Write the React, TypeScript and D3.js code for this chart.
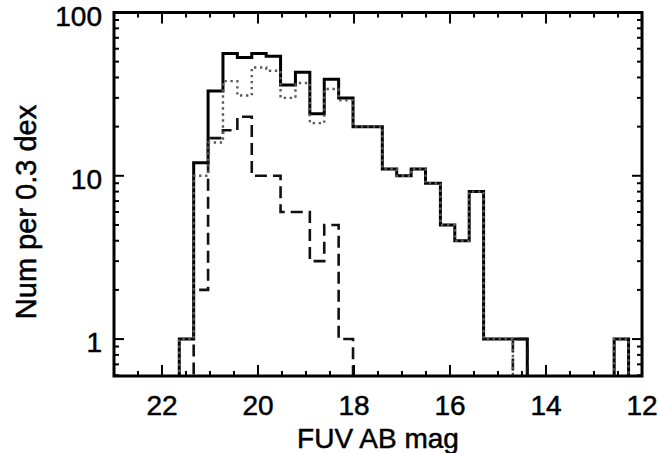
import * as d3 from "d3";
import { useEffect, useRef } from "react";

// histogram bin edges (FUV AB mag), one more than the values
const binEdges = [
  21.64, 21.34, 21.04, 20.73, 20.43, 20.13, 19.83, 19.53, 19.22, 18.92, 18.62,
  18.32, 18.02, 17.71, 17.41, 17.11, 16.81, 16.51, 16.2, 15.9, 15.6, 15.3, 15.0,
  14.69, 14.39, 14.09, 13.79, 13.49, 13.18, 12.88, 12.58, 12.28,
];

const totalCounts = [
  1, 12, 33, 56, 53, 56, 54, 36, 43, 24, 39, 30, 20, 20, 11, 10, 11, 9, 5, 4, 8,
  1, 1, 1, 0, 0, 0, 0, 0, 0, 1,
];
const dottedCounts = [
  1, 10, 16, 38, 31, 46, 44, 30, 37, 21, 34, 29, 20, 20, 11, 10, 11, 9, 5, 4, 8,
  1, 1, 0, 0, 0, 0, 0, 0, 0, 1,
];
const dashedCounts = [
  0, 2, 17, 19, 23, 10, 10, 6, 6, 3, 5, 1, 0, 0, 0, 0, 0, 0, 0, 0, 0, 0, 0, 1,
  0, 0, 0, 0, 0, 0, 0,
];

const xMajorTicks = [22, 20, 18, 16, 14, 12];
const yMajorTicks = [1, 10, 100];
const yTickLabels = ["1", "10", "100"];

const W = 658;
const H = 453;
const FONT = "'Liberation Sans', Arial, Helvetica, sans-serif";

export default function App() {
  const svgRef = useRef<SVGSVGElement | null>(null);

  useEffect(() => {
    if (!svgRef.current) return;
    const svg = d3.select(svgRef.current);
    svg.selectAll("*").remove();

    const left = 114;
    const right = 642;
    const top = 12.5;
    const bottom = 376;

    const x = d3.scaleLinear().domain([23, 12]).range([left, right]);
    const y = d3.scaleLog().domain([0.594, 100]).range([bottom, top]);

    svg
      .append("defs")
      .append("clipPath")
      .attr("id", "plot-clip")
      .append("rect")
      .attr("x", left)
      .attr("y", top)
      .attr("width", right - left)
      .attr("height", bottom - top);

    const yv = (v: number) => (v > 0 ? y(v) : bottom + 2);

    const stepPoints = (counts: number[]) => {
      const pts: [number, number][] = [[x(binEdges[0]), bottom + 2]];
      counts.forEach((c, i) => {
        pts.push([x(binEdges[i]), yv(c)]);
        pts.push([x(binEdges[i + 1]), yv(c)]);
      });
      pts.push([x(binEdges[binEdges.length - 1]), bottom + 2]);
      return pts;
    };

    const line = d3.line<[number, number]>();
    const plot = svg.append("g").attr("clip-path", "url(#plot-clip)");

    plot
      .append("path")
      .attr("d", line(stepPoints(totalCounts)))
      .attr("fill", "none")
      .attr("stroke", "#000")
      .attr("stroke-width", 3);

    plot
      .append("path")
      .attr("d", line(stepPoints(dashedCounts)))
      .attr("fill", "none")
      .attr("stroke", "#111")
      .attr("stroke-width", 2.6)
      .attr("stroke-dasharray", "12,6");

    plot
      .append("path")
      .attr("d", line(stepPoints(dottedCounts)))
      .attr("fill", "none")
      .attr("stroke", "#5a5a5a")
      .attr("stroke-width", 2.4)
      .attr("stroke-dasharray", "2.4,3.6");

    // ticks (inward, on all four sides)
    const axes = svg.append("g").attr("stroke", "#000").attr("stroke-width", 2);
    const xMinor = d3.range(12, 23.01, 0.5);
    xMinor.forEach((m) => {
      const len = xMajorTicks.includes(m) ? 11 : 5;
      const px = x(m);
      axes.append("line").attr("x1", px).attr("x2", px).attr("y1", bottom).attr("y2", bottom - len);
      axes.append("line").attr("x1", px).attr("x2", px).attr("y1", top).attr("y2", top + len);
    });

    const yMinor: number[] = [];
    [0.1, 1, 10].forEach((d) => {
      for (let k = 1; k <= 9; k++) {
        const v = k * d;
        if (v >= 0.594 && v <= 100) yMinor.push(v);
      }
    });
    yMinor.push(100);
    yMinor.forEach((v) => {
      const len = yMajorTicks.some((t) => Math.abs(t - v) < 1e-9) ? 10 : 5;
      const py = y(v);
      axes.append("line").attr("x1", left).attr("x2", left + len).attr("y1", py).attr("y2", py);
      axes.append("line").attr("x1", right).attr("x2", right - len).attr("y1", py).attr("y2", py);
    });

    svg
      .append("rect")
      .attr("x", left)
      .attr("y", top)
      .attr("width", right - left)
      .attr("height", bottom - top)
      .attr("fill", "none")
      .attr("stroke", "#000")
      .attr("stroke-width", 3);

    const labels = svg
      .append("g")
      .attr("font-family", FONT)
      .attr("font-size", 28)
      .attr("fill", "#000")
      .attr("stroke", "#000")
      .attr("stroke-width", 0.5);

    xMajorTicks.forEach((t) => {
      labels
        .append("text")
        .attr("x", x(t))
        .attr("y", 415)
        .attr("text-anchor", "middle")
        .text(String(t));
    });

    yMajorTicks.forEach((t, i) => {
      labels
        .append("text")
        .attr("x", 102)
        .attr("y", y(t) + 13)
        .attr("text-anchor", "end")
        .text(yTickLabels[i]);
    });

    labels
      .append("text")
      .attr("x", (left + right) / 2)
      .attr("y", 448)
      .attr("text-anchor", "middle")
      .text("FUV AB mag");

    labels
      .append("text")
      .attr("transform", `translate(36,212) rotate(-90)`)
      .attr("text-anchor", "middle")
      .attr("font-size", 29)
      .text("Num per 0.3 dex");
  }, []);

  return (
    <svg
      ref={svgRef}
      width={W}
      height={H}
      viewBox={`0 0 ${W} ${H}`}
      style={{ position: "absolute", left: 0, top: 0, background: "#fff" }}
    />
  );
}
